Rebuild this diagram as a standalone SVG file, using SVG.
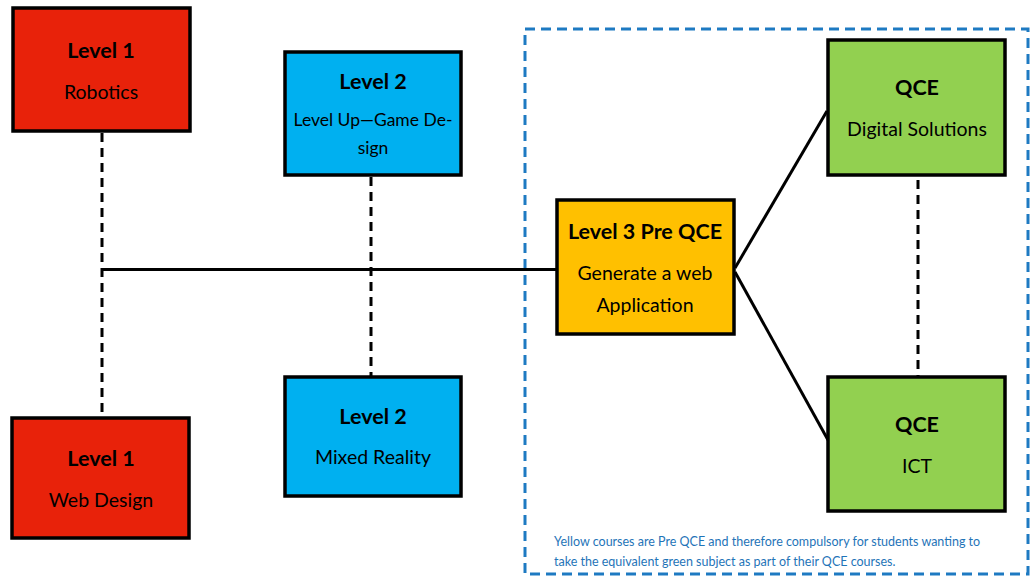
<svg xmlns="http://www.w3.org/2000/svg" width="1030" height="576" viewBox="0 0 1030 576">
<style>
.box{stroke:#000;stroke-width:3.5}
.red{fill:#e8220a}.blue{fill:#00b0f0}.yel{fill:#ffc000}.grn{fill:#92d050}
.t{font-family:Lato,"Open Sans",sans-serif;text-anchor:middle;fill:#000}
.b{font-weight:bold;font-size:21.5px}
.r{font-size:19.5px}
.solid{stroke:#000;stroke-width:3;fill:none}
.dash{stroke:#000;stroke-width:3;fill:none;stroke-dasharray:9,6}
.note{font-family:Lato,"Open Sans",sans-serif;font-size:12.5px;fill:#1f74b8}
</style>
<rect x="0" y="0" width="1030" height="576" fill="#fff"/>
<rect id="region" x="525" y="29" width="503" height="545" fill="none" stroke="#1e7ac2" stroke-width="3" stroke-dasharray="10,6"/>
<g id="connectors">
<line class="dash" x1="102" y1="133" x2="102" y2="417"/>
<line class="dash" x1="371" y1="177" x2="371" y2="376"/>
<line class="dash" x1="918" y1="180" x2="918" y2="376"/>
<line class="solid" x1="102" y1="269.5" x2="556" y2="269.5"/>
<line class="solid" x1="735" y1="268" x2="827" y2="111"/>
<line class="solid" x1="735" y1="272" x2="828" y2="440"/>
</g>
<g id="robotics"><rect class="box red" x="13" y="8" width="177" height="123"/>
<text class="t b" x="101" y="58">Level 1</text><text class="t r" x="101" y="99">Robotics</text></g>
<g id="gamedesign"><rect class="box blue" x="285" y="52" width="176" height="123"/>
<text class="t b" x="373" y="89">Level 2</text><text class="t" font-size="17.5" x="373" y="126">Level Up—Game De-</text><text class="t" font-size="17.5" x="373" y="154">sign</text></g>
<g id="webdesign"><rect class="box red" x="12" y="418" width="177" height="120"/>
<text class="t b" x="101" y="466">Level 1</text><text class="t r" x="101" y="507">Web Design</text></g>
<g id="mixedreality"><rect class="box blue" x="285" y="377" width="176" height="119"/>
<text class="t b" x="373" y="424">Level 2</text><text class="t r" x="373" y="464">Mixed Reality</text></g>
<g id="webapp"><rect class="box yel" x="557" y="200" width="177" height="134"/>
<text class="t b" x="645" y="239">Level 3 Pre QCE</text><text class="t r" x="645" y="280">Generate a web</text><text class="t r" x="645" y="312">Application</text></g>
<g id="digitalsolutions"><rect class="box grn" x="828" y="40" width="177" height="135"/>
<text class="t b" x="917" y="95">QCE</text><text class="t r" x="917" y="136">Digital Solutions</text></g>
<g id="ict"><rect class="box grn" x="828" y="377" width="177" height="134"/>
<text class="t b" x="917" y="432">QCE</text><text class="t r" x="917" y="473">ICT</text></g>
<g id="note">
<text class="note" x="554" y="546">Yellow courses are Pre QCE and therefore compulsory for students wanting to</text>
<text class="note" x="554" y="566">take the equivalent green subject as part of their QCE courses.</text>
</g>
</svg>
